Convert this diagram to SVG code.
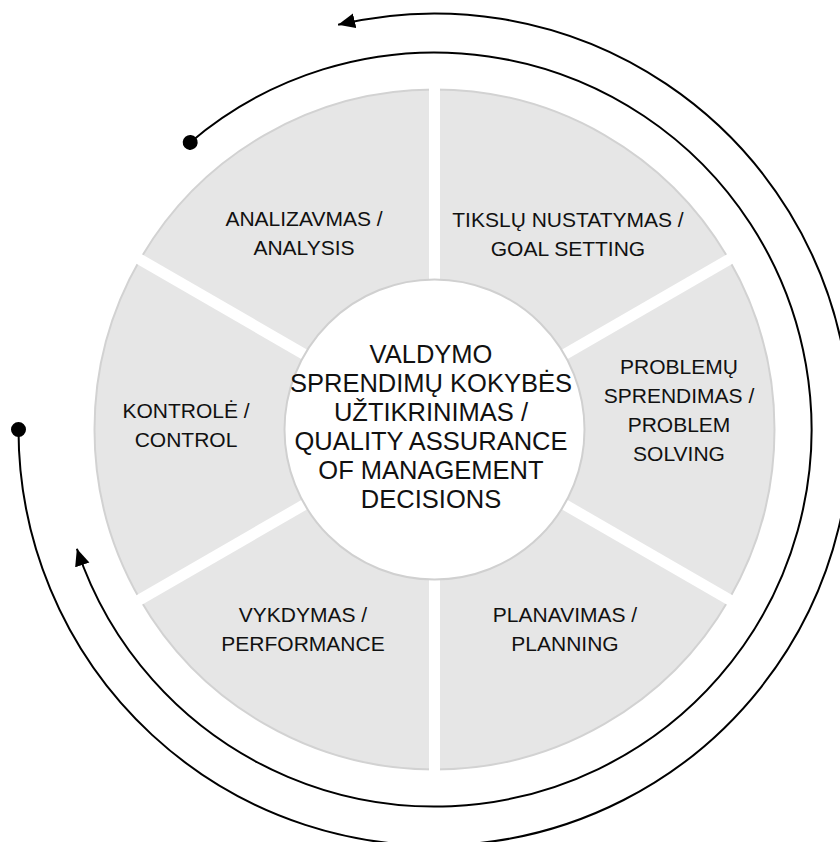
<svg xmlns="http://www.w3.org/2000/svg" width="840" height="842" viewBox="0 0 840 842">
  <defs>
    <style>
      .sector { fill: #e6e6e6; stroke: #d2d2d2; stroke-width: 2; }
      .gap { stroke: #ffffff; stroke-width: 11; fill: none; }
      .hub { fill: #ffffff; stroke: #d0d0d0; stroke-width: 2; }
      .lbl { font-family: "Liberation Sans", Arial, Helvetica, sans-serif; font-size: 21px; fill: #111111; text-anchor: middle; }
      .hubtxt { font-family: "Liberation Sans", Arial, Helvetica, sans-serif; font-size: 25.5px; fill: #111111; text-anchor: middle; }
      .cycle { fill: none; stroke: #000000; stroke-width: 2; }
    </style>
    <marker id="arrow" markerUnits="userSpaceOnUse" markerWidth="18" markerHeight="16" refX="17" refY="7.5" orient="auto">
      <path d="M0,0 L17,7.5 L0,15 Z" fill="#000000"/>
    </marker>
    <marker id="dot" markerUnits="userSpaceOnUse" markerWidth="17" markerHeight="17" refX="8.5" refY="8.5" orient="auto">
      <circle cx="8.5" cy="8.5" r="7.5" fill="#000000"/>
    </marker>
  </defs>
  <rect width="840" height="842" fill="#ffffff"/>

  <g id="sector-goal-setting">
    <path class="sector" d="M434.5,429.5 L434.5,89.5 A340,340 0 0 1 728.95,259.5 Z"/>
    <text class="lbl" x="568" y="227">TIKSLŲ NUSTATYMAS /</text>
    <text class="lbl" x="568" y="256">GOAL SETTING</text>
  </g>
  <g id="sector-problem-solving">
    <path class="sector" d="M434.5,429.5 L728.95,259.5 A340,340 0 0 1 728.95,599.5 Z"/>
    <text class="lbl" x="679" y="374">PROBLEMŲ</text>
    <text class="lbl" x="679" y="403">SPRENDIMAS /</text>
    <text class="lbl" x="679" y="432">PROBLEM</text>
    <text class="lbl" x="679" y="461">SOLVING</text>
  </g>
  <g id="sector-planning">
    <path class="sector" d="M434.5,429.5 L728.95,599.5 A340,340 0 0 1 434.5,769.5 Z"/>
    <text class="lbl" x="565" y="622">PLANAVIMAS /</text>
    <text class="lbl" x="565" y="651">PLANNING</text>
  </g>
  <g id="sector-performance">
    <path class="sector" d="M434.5,429.5 L434.5,769.5 A340,340 0 0 1 140.05,599.5 Z"/>
    <text class="lbl" x="303" y="622">VYKDYMAS /</text>
    <text class="lbl" x="303" y="651">PERFORMANCE</text>
  </g>
  <g id="sector-control">
    <path class="sector" d="M434.5,429.5 L140.05,599.5 A340,340 0 0 1 140.05,259.5 Z"/>
    <text class="lbl" x="186" y="418">KONTROLĖ /</text>
    <text class="lbl" x="186" y="447">CONTROL</text>
  </g>
  <g id="sector-analysis">
    <path class="sector" d="M434.5,429.5 L140.05,259.5 A340,340 0 0 1 434.5,89.5 Z"/>
    <text class="lbl" x="304" y="226">ANALIZAVMAS /</text>
    <text class="lbl" x="304" y="255">ANALYSIS</text>
  </g>

  <g id="gaps">
    <line class="gap" x1="434.5" y1="80" x2="434.5" y2="780"/>
    <line class="gap" x1="737.6" y1="254.5" x2="131.4" y2="604.5"/>
    <line class="gap" x1="737.6" y1="604.5" x2="131.4" y2="254.5"/>
  </g>

  <g id="hub">
    <circle class="hub" cx="434.5" cy="429.5" r="150"/>
    <text class="hubtxt" x="431" y="363">VALDYMO</text>
    <text class="hubtxt" x="431" y="392">SPRENDIMŲ KOKYBĖS</text>
    <text class="hubtxt" x="431" y="421">UŽTIKRINIMAS /</text>
    <text class="hubtxt" x="431" y="450">QUALITY ASSURANCE</text>
    <text class="hubtxt" x="431" y="479">OF MANAGEMENT</text>
    <text class="hubtxt" x="431" y="508">DECISIONS</text>
  </g>

  <g id="connectors">
    <path class="cycle" marker-start="url(#dot)" marker-end="url(#arrow)" d="M190.2,142.4 A377,377 0 1 1 76.9,548.8"/>
    <path class="cycle" marker-start="url(#dot)" marker-end="url(#arrow)" d="M18.5,429.5 A416,416 0 1 0 338.1,24.8"/>
  </g>
</svg>
